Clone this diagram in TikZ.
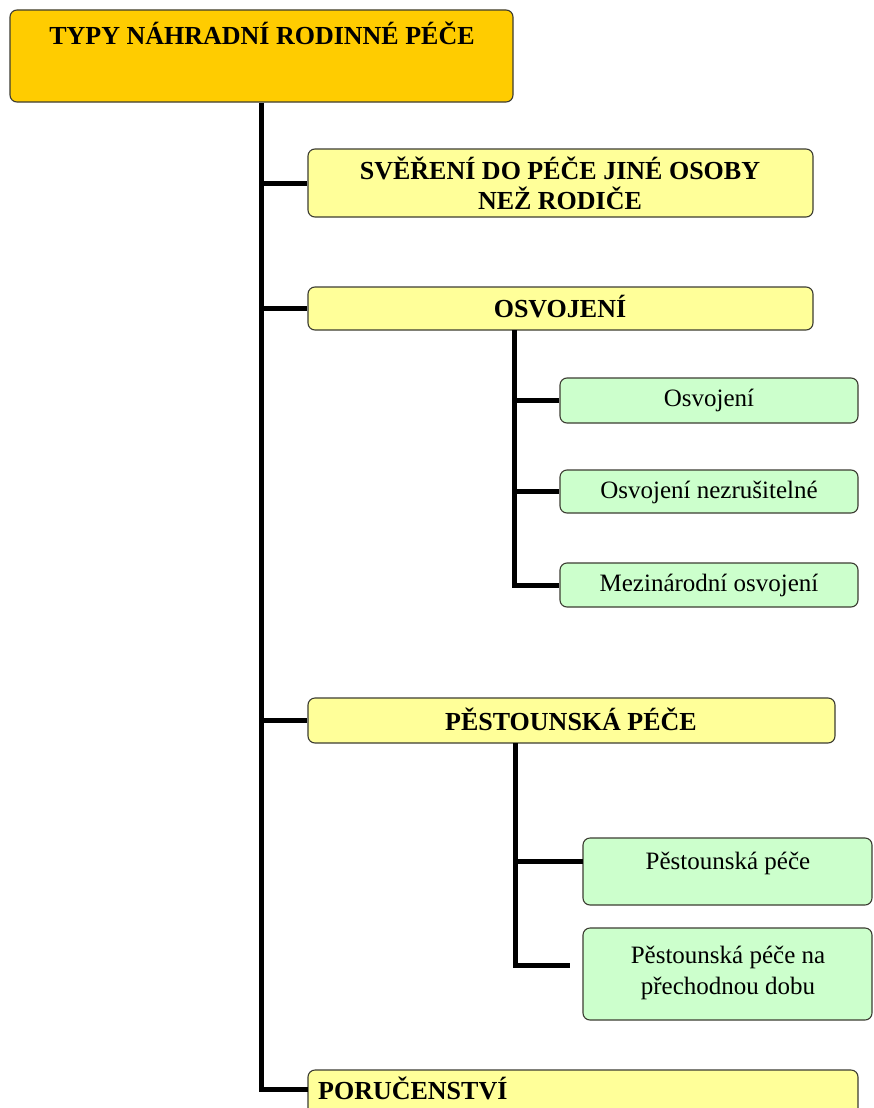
\documentclass[tikz,border=0pt]{standalone}
\usepackage{fontspec}
\setmainfont{Liberation Serif}
\definecolor{rootfill}{RGB}{255,204,0}
\definecolor{yfill}{RGB}{255,255,153}
\definecolor{gfill}{RGB}{204,255,204}
\definecolor{edge}{RGB}{60,60,50}
\begin{document}
\begin{tikzpicture}[x=1pt,y=-1pt,
  box/.style={draw=edge, line width=1.1pt, rounded corners=7pt, inner sep=0pt},
  rootbox/.style={box, fill=rootfill},
  ybox/.style={box, fill=yfill},
  gbox/.style={box, fill=gfill},
  head/.style={font=\bfseries\fontsize{26}{30}\selectfont, inner sep=0pt, align=center},
  sub/.style={font=\fontsize{25}{31}\selectfont, inner sep=0pt, align=center},
  conn/.style={line width=5pt, black}]
\useasboundingbox (0,0) rectangle (873,1108);

% boxes
\node[rootbox, minimum width=503pt, minimum height=92pt] (root) at (261.5,56) {};
\node[ybox, minimum width=505pt, minimum height=68pt] (sv) at (560.5,183) {};
\node[ybox, minimum width=505pt, minimum height=43pt] (osv) at (560.5,308.5) {};
\node[gbox, minimum width=298pt, minimum height=45pt] (g1) at (709,400.5) {};
\node[gbox, minimum width=298pt, minimum height=43pt] (g2) at (709,491.5) {};
\node[gbox, minimum width=298pt, minimum height=44pt] (g3) at (709,585) {};
\node[ybox, minimum width=527pt, minimum height=45pt] (pes) at (571.5,720.5) {};
\node[gbox, minimum width=289pt, minimum height=67pt] (g4) at (727.5,871.5) {};
\node[gbox, minimum width=289pt, minimum height=92pt] (g5) at (727.5,974) {};
\node[ybox, minimum width=550pt, minimum height=55pt] (por) at (583,1097.5) {};

% texts
\node[head] (tRoot) at (262,33) {TYPY NÁHRADNÍ RODINNÉ PÉČE};
\node[head] (tSv) at (560,183) {SVĚŘENÍ DO PÉČE JINÉ OSOBY\\NEŽ RODIČE};
\node[head] (tOsv) at (560,307) {OSVOJENÍ};
\node[sub] (t1) at (709,400) {Osvojení};
\node[sub] (t2) at (709,492) {Osvojení nezrušitelné};
\node[sub] (t3) at (709,585) {Mezinárodní osvojení};
\node[head] (tPes) at (571,719) {PĚSTOUNSKÁ PÉČE};
\node[sub] (t4) at (728,863) {Pěstounská péče};
\node[sub] (t5) at (728,973) {Pěstounská péče na\\přechodnou dobu};
\node[head, anchor=west] (tPor) at (318,1088) {PORUČENSTVÍ};

% connector points
\coordinate (porin) at (308,1089);
\coordinate (osvtap) at (514,330);
\coordinate (pestap) at (515,743);
\coordinate (g4in) at (583,861);
\coordinate (g5end) at (570,965);

% connectors
\draw[conn] (root.south) |- (porin);
\draw[conn] (root.south |- sv.west) -- (sv.west);
\draw[conn] (root.south |- osv.west) -- (osv.west);
\draw[conn] (root.south |- pes.west) -- (pes.west);
\draw[conn] (osvtap) |- (g3.west);
\draw[conn] (osvtap |- g1.west) -- (g1.west);
\draw[conn] (osvtap |- g2.west) -- (g2.west);
\draw[conn] (pestap) |- (g5end);
\draw[conn] (pestap |- g4in) -- (g4in);
\end{tikzpicture}
\end{document}
